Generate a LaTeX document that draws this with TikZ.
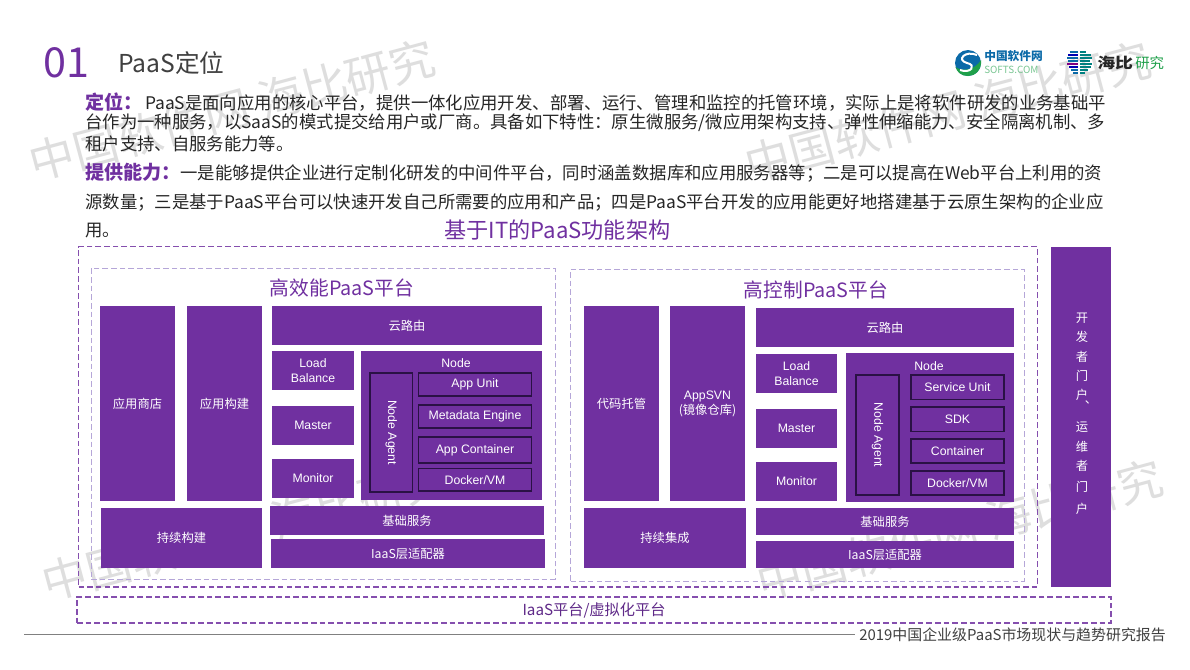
\documentclass[tikz,border=0pt]{standalone}
\usepackage{fontspec}
\usepackage{graphicx}
\setmainfont{Noto Sans CJK SC}
\newfontfamily\lat{Liberation Sans}
\definecolor{pur}{HTML}{7030A0}
\definecolor{darktxt}{HTML}{262626}
\definecolor{graytxt}{HTML}{404040}
\definecolor{wm}{HTML}{DEDEDE}
\definecolor{lav}{HTML}{B5A6D8}
\definecolor{edge}{HTML}{2A1145}
\definecolor{softblue}{HTML}{0B6AA8}
\definecolor{softgreen}{HTML}{1FA04A}
\newcommand{\fs}[1]{\fontsize{#1}{#1}\selectfont}
\tikzset{
  x=0.75pt,y=-0.75pt,
  pbox/.style={fill=pur,text=white,inner sep=0pt,outer sep=0pt,align=center,font=\fontsize{9.2}{11.3}\selectfont},
  dbox/.style={pbox,draw=edge,line width=0.9pt},
  frameA/.style={draw=pur!85,dash pattern=on 4.2pt off 2.3pt,line width=0.8pt,inner sep=0pt,outer sep=0pt},
  frameB/.style={draw=lav,dash pattern=on 4.2pt off 2.3pt,line width=0.75pt,inner sep=0pt,outer sep=0pt},
  wmark/.style={text=wm,rotate=15,font=\fs{34},inner sep=0pt},
  line/.style={anchor=west,inner sep=0pt,text=darktxt,font=\fs{13.03}},
  title/.style={inner sep=0pt,text=pur},
}
\newcommand{\bx}[7][pbox]{%
  \node[#1,minimum width={(#4-#2)*0.75pt},minimum height={(#5-#3)*0.75pt}] (#6) at ({(#2+#4)/2},{(#3+#5)/2}) {#7};}
\newcommand{\nagent}{\rotatebox{-90}{\lat Node Agent}}
\begin{document}
\begin{tikzpicture}
\useasboundingbox[fill=white] (0,0) rectangle (1190,669);
% watermarks
\node[wmark] (w1) at (232,110) {中国软件网 海比研究};
\node[wmark] (w2) at (948,112) {中国软件网 海比研究};
\node[wmark] (w3) at (245,530) {中国软件网 海比研究};
\node[wmark] (w4) at (960,530) {中国软件网 海比研究};
% header
\node[anchor=west,inner sep=0pt,text=pur,font=\fs{31}] (num) at (43,63) {01};
\node[anchor=west,inner sep=0pt,text=graytxt,font=\fs{18.5}] (ttl) at (118,63) {PaaS定位};
% logos
\fill[softblue] (968,63) circle (13);
\fill[softgreen] (955.5,67) .. controls (962,72) and (975,70) .. (981,60) .. controls (982,70) and (975,76) .. (968,76) .. controls (961,76) and (957,72) .. (955.5,67) -- cycle;
\draw[white,line width=1.5pt] (977,55) .. controls (965,50) and (956,60) .. (967,63) .. controls (977,65) and (971,74) .. (960,70);
\node[anchor=west,inner sep=0pt,text=softblue,font=\fs{8.8}\bfseries] (l1) at (984,56) {中国软件网};
\node[anchor=west,inner sep=0pt,text=softgreen!60,font=\fs{7.4}] (l2) at (984,70) {SOFTS.COM};
\foreach \yy/\c/\a/\b in {52/softblue/1070/1078,55/blue!70!black/1068/1078,58/softblue/1067/1078,61/softblue/1068/1078,64/violet/1067/1078,67/blue!70!black/1069/1078,70/softblue/1071/1078,73/softblue/1073/1078}
  \draw[\c,line width=1.1pt] (\a,\yy) -- (\b,\yy);
\foreach \yy/\a/\b in {52/1080/1086,55/1080/1091,58/1080/1092,61/1080/1090,64/1080/1092,67/1080/1091,70/1080/1088,73/1080/1085}
  \draw[teal,line width=1.1pt] (\a,\yy) -- (\b,\yy);
\node[anchor=west,inner sep=0pt,text=darktxt,font=\fs{11}\bfseries] (l3) at (1097,63) {\scalebox{1.22}[1]{海比}};
\node[anchor=west,inner sep=0pt,text=softgreen,font=\fs{10.8}] (l4) at (1135,63) {研究};
% body text
\node[line] (t1) at (85,102) {{\fs{14.3}\bfseries\color{pur}定位：}\hspace{2pt}PaaS是面向应用的核心平台，提供一体化应用开发、部署、运行、管理和监控的托管环境，实际上是将软件研发的业务基础平};
\node[line] (t2) at (85,123) {台作为一种服务，以SaaS的模式提交给用户或厂商。具备如下特性：原生微服务/微应用架构支持、弹性伸缩能力、安全隔离机制、多};
\node[line] (t3) at (85,144) {租户支持、自服务能力等。};
\node[line] (t4) at (85,173) {{\fs{14.3}\bfseries\color{pur}提供能力：}一是能够提供企业进行定制化研发的中间件平台，同时涵盖数据库和应用服务器等；二是可以提高在Web平台上利用的资};
\node[line] (t5) at (85,203) {源数量；三是基于PaaS平台可以快速开发自己所需要的应用和产品；四是PaaS平台开发的应用能更好地搭建基于云原生架构的企业应};
\node[line] (t6) at (85,231) {用。};
\node[title,font=\fs{16.6}] (main) at (557.5,230) {基于IT的PaaS功能架构};
% frames
\bx[frameA]{78.5}{246.5}{1037.5}{587}{fo}{}
\bx[frameB]{91}{268}{555}{579}{f1}{}
\bx[frameB]{570.5}{269}{1024}{581}{f2}{}
\bx[frameA]{77}{597}{1111}{623}{iaas}{\textcolor{pur!85!black}{\fs{11.4}IaaS平台/虚拟化平台}}
\node[title,font=\fs{14.8}] (h1) at (342,288) {高效能PaaS平台};
\node[title,font=\fs{14.8}] (h2) at (816,290) {高控制PaaS平台};
% left platform
\bx{100}{306}{175}{501}{a1}{应用商店}
\bx{187}{306}{262}{501}{a2}{应用构建}
\bx{272}{306}{542}{345}{a3}{云路由}
\bx{272}{351}{354}{390}{a4}{\lat Load\\\lat Balance}
\bx{272}{406}{354}{445}{a5}{\lat Master}
\bx{272}{459}{354}{498}{a6}{\lat Monitor}
\bx{361}{351}{542}{500}{a7}{}
\node[text=white,inner sep=0pt,font=\fs{9.2}\lat] (a7t) at (456,363) {Node};
\bx[dbox]{370}{373}{412.5}{492}{a8}{\nagent}
\bx[dbox]{418.5}{373}{531.5}{396}{a9}{\lat App Unit}
\bx[dbox]{418.5}{405}{531.5}{428}{a10}{\lat Metadata Engine}
\bx[dbox]{418.5}{437}{531.5}{463}{a11}{\lat App Container}
\bx[dbox]{418.5}{468.5}{531.5}{491}{a12}{\lat Docker/VM}
\bx{101}{508}{262}{568}{a13}{持续构建}
\bx{270}{506}{544}{535}{a14}{基础服务}
\bx{271}{539}{545}{568}{a15}{IaaS层适配器}
% right platform
\bx{584}{306}{659}{501}{b1}{代码托管}
\bx{670}{306}{745}{501}{b2}{\lat AppSVN\\(镜像仓库)}
\bx{756}{308}{1014}{347}{b3}{云路由}
\bx{756}{354}{837}{393}{b4}{\lat Load\\\lat Balance}
\bx{756}{409}{837}{448}{b5}{\lat Master}
\bx{756}{462}{837}{501}{b6}{\lat Monitor}
\bx{846}{353}{1014}{502}{b7}{}
\node[text=white,inner sep=0pt,font=\fs{9.2}\lat] (b7t) at (929,366) {Node};
\bx[dbox]{856}{375}{899}{495}{b8}{\nagent}
\bx[dbox]{911}{375}{1004}{399.5}{b9}{\lat Service Unit}
\bx[dbox]{911}{407}{1004}{431.5}{b10}{\lat SDK}
\bx[dbox]{911}{439}{1004}{463}{b11}{\lat Container}
\bx[dbox]{911}{471}{1004}{495}{b12}{\lat Docker/VM}
\bx{584}{508}{746}{568}{b13}{持续集成}
\bx{756}{508}{1014}{535}{b14}{基础服务}
\bx{756}{541}{1014}{568}{b15}{IaaS层适配器}
% right bar
\bx{1051}{247}{1111}{587}{bar}{}
\node[text=white,inner sep=0pt,align=center,font=\fontsize{9.2}{14.5}\selectfont] (bart) at (1082,414) {开\\发\\者\\门\\户\rlap{\hspace*{-2.5pt}\raisebox{-3pt}[0pt][0pt]{、}}\\[9.5pt]运\\维\\者\\[1pt]门\\[2.5pt]户};
% footer
\coordinate (fa) at (24,634.5);
\coordinate (fb) at (855,634.5);
\draw[gray,line width=0.75pt] (fa) -- (fb);
\node[anchor=west,inner sep=0pt,text=graytxt,font=\fs{11.2}] (foot) at (859,635) {2019中国企业级PaaS市场现状与趋势研究报告};
\end{tikzpicture}
\end{document}
